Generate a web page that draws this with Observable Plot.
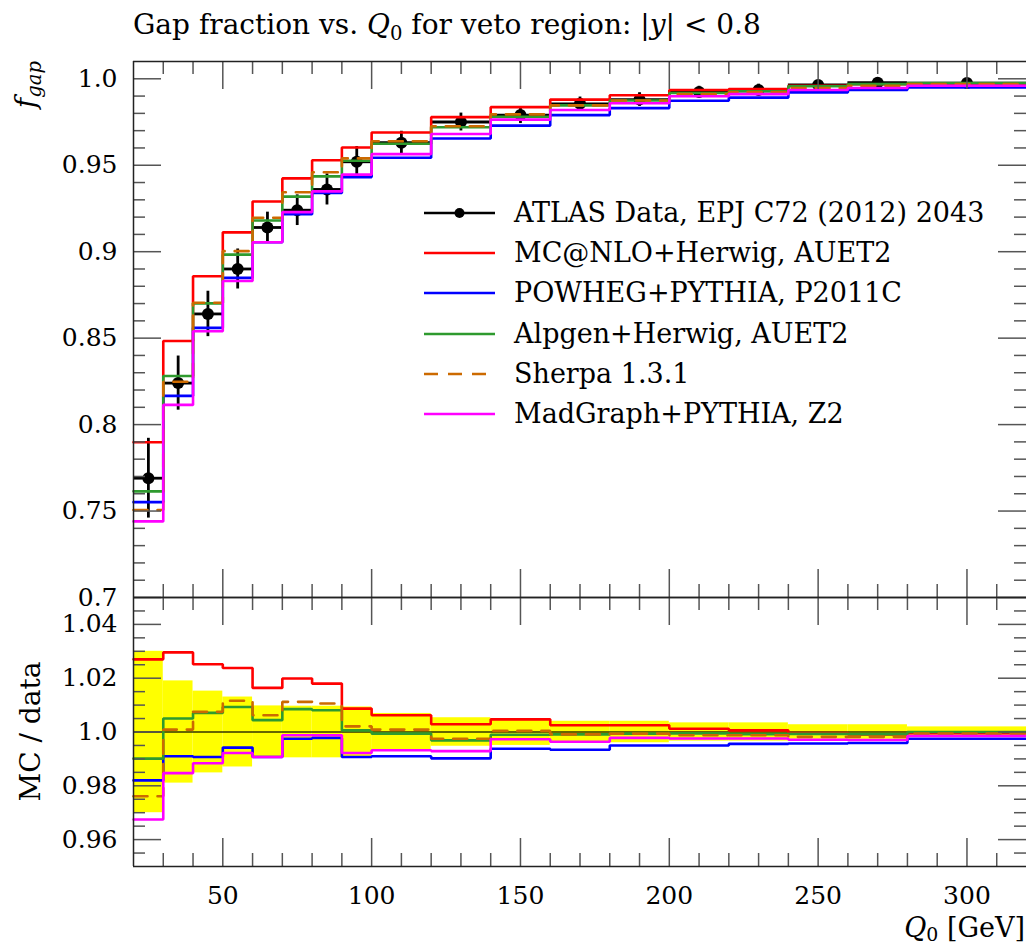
<!DOCTYPE html>
<html>
<head>
<meta charset="utf-8">
<script src="https://cdn.jsdelivr.net/npm/d3@7"></script>
<script src="https://cdn.jsdelivr.net/npm/@observablehq/plot@0.6"></script>
<style>
  body { margin: 0; background: #fff; }
  #chart { position: relative; width: 1026px; height: 947px; overflow: hidden;
           font-family: "DejaVu Serif", "Liberation Serif", serif; color: #000; }
  #chart svg { position: absolute; left: 0; overflow: visible; }
  .txt { position: absolute; white-space: nowrap; font-size: 25px; line-height: 28px; }
  .txt sub { font-size: 0.7em; vertical-align: -0.3em; line-height: 0; }
  .txt.low sub { vertical-align: -0.2em; }
</style>
</head>
<body>
<div id="chart"></div>
<script>
// Q0 bins of the gap-fraction measurement (GeV)
const binEdges = [20, 30, 40, 50, 60, 70, 80, 90, 100, 120, 140, 160, 180, 200, 220, 240, 260, 280, 320];

// Measured gap fraction per bin and its relative uncertainty
const gapData = [0.769, 0.824, 0.864, 0.890, 0.914, 0.924, 0.936, 0.952, 0.963, 0.975,
                 0.979, 0.9855, 0.988, 0.9923, 0.9935, 0.9964, 0.9977, 0.9975];
const dataRelErr = [0.030, 0.019, 0.0152, 0.013, 0.0097, 0.0096, 0.0096, 0.0093, 0.0069, 0.0053,
                    0.0050, 0.0040, 0.0040, 0.0034, 0.0034, 0.0027, 0.0027, 0.0019];

// MC / data ratios per generator
const ratioMcnlo = [1.027, 1.0296, 1.0252, 1.0238, 1.0164, 1.0199, 1.018, 1.0087, 1.0062, 1.0029,
                    1.0047, 1.0025, 1.0025, 1.0012, 1.0006, 0.9996, 0.9991, 0.9996];
const ratioPowheg = [0.982, 0.991, 0.9907, 0.9942, 0.9907, 0.9975, 0.9978, 0.9907, 0.991, 0.9902,
                     0.9938, 0.9934, 0.995, 0.995, 0.9956, 0.9957, 0.9959, 0.9975];
const ratioAlpgen = [0.9901, 1.005, 1.0071, 1.0093, 1.0044, 1.0085, 1.0081, 1.0006, 0.9994, 0.9969,
                     0.999, 0.9991, 0.9994, 0.9995, 0.9992, 0.9993, 0.9992, 1.0];
const ratioSherpa = [0.9761, 1.0009, 1.0075, 1.0116, 1.0062, 1.0112, 1.0106, 1.0021, 1.0009, 0.9975,
                     1.0004, 0.9991, 0.9994, 0.9988, 0.9988, 0.9982, 0.9982, 0.9994];
const ratioMadgraph = [0.9675, 0.9847, 0.9884, 0.9922, 0.9907, 0.9988, 0.9988, 0.9922, 0.9932, 0.9929,
                       0.9973, 0.9964, 0.9978, 0.9976, 0.9976, 0.9971, 0.997, 0.9985];

const dataLabel = "ATLAS Data, EPJ C72 (2012) 2043";
const seriesNames = ["MC@NLO+Herwig, AUET2", "POWHEG+PYTHIA, P2011C", "Alpgen+Herwig, AUET2",
                     "Sherpa 1.3.1", "MadGraph+PYTHIA, Z2"];
const seriesColors = ["#ff0000", "#0000ff", "#2e9a2e", "#cc6a00", "#ff00ff"];
const seriesDash = [null, null, null, "14,10", null];
const seriesRatios = [ratioMcnlo, ratioPowheg, ratioAlpgen, ratioSherpa, ratioMadgraph];

// Axis ticks and labels
const xTickValues = [50, 100, 150, 200, 250, 300];
const xMinorTicks = [30, 40, 60, 70, 80, 90, 110, 120, 130, 140, 160, 170, 180, 190, 210, 220, 230, 240, 260, 270, 280, 290, 310];
const topYTickValues = [0.7, 0.75, 0.8, 0.85, 0.9, 0.95, 1.0];
const topYTickLabels = ["0.7", "0.75", "0.8", "0.85", "0.9", "0.95", "1.0"];
const ratioYTickValues = [0.96, 0.98, 1.0, 1.02, 1.04];
const ratioYTickLabels = ["0.96", "0.98", "1.0", "1.02", "1.04"];

// ---- layout ----
const W = 1026, left = 133;
const topY0 = 61, splitY = 597, botY1 = 866;
const frameW = W - left;
const topH = splitY - topY0, botH = botY1 - splitY;
const FONT = '"DejaVu Serif", "Liberation Serif", serif';
const tickColor = "#555", frameColor = "#222";

// ---- derived tables ----
const bins = gapData.map((v, i) => ({
  lo: binEdges[i], hi: binEdges[i + 1], mid: (binEdges[i] + binEdges[i + 1]) / 2,
  v, rel: dataRelErr[i], err: v * dataRelErr[i]
}));
const steps = vals => vals.flatMap((v, i) => [{x: binEdges[i], y: v}, {x: binEdges[i + 1], y: v}]);
const series = seriesNames.map((name, k) => ({
  name, color: seriesColors[k], dash: seriesDash[k],
  ratio: steps(seriesRatios[k]),
  value: steps(seriesRatios[k].map((r, i) => r * gapData[i]))
}));

const topMinorY = d3.range(71, 101).map(d => d / 100).filter(d => Math.round(d * 100) % 5 !== 0);
const botMinorY = d3.range(191, 210).map(d => d / 200).filter(d => Math.round(d * 200) % 4 !== 0);

function frameTicks(yMajor, yMinor, fh) {
  const t = {stroke: tickColor, strokeWidth: 1.5};
  return [
    Plot.tickY(yMajor, {y: d => d, insetRight: frameW - 28, ...t}),
    Plot.tickY(yMinor, {y: d => d, insetRight: frameW - 12, ...t}),
    Plot.tickY(yMajor, {y: d => d, insetLeft: frameW - 28, ...t}),
    Plot.tickY(yMinor, {y: d => d, insetLeft: frameW - 12, ...t}),
    Plot.tickX(xTickValues, {x: d => d, insetBottom: fh - 28, ...t}),
    Plot.tickX(xMinorTicks, {x: d => d, insetBottom: fh - 13, ...t}),
    Plot.tickX(xTickValues, {x: d => d, insetTop: fh - 28, ...t}),
    Plot.tickX(xMinorTicks, {x: d => d, insetTop: fh - 13, ...t})
  ];
}

const baseStyle = {fontFamily: FONT, fontSize: "25px", background: "transparent", overflow: "visible", color: "#000"};

// ---- upper panel: gap fraction ----
const topPlot = Plot.plot({
  width: W, height: splitY, marginTop: topY0, marginBottom: 0, marginLeft: left, marginRight: 0,
  style: baseStyle,
  x: {domain: [20, 320], axis: null},
  y: {domain: [0.7, 1.01], axis: null},
  marks: [
    Plot.ruleY(bins, {x1: "lo", x2: "hi", y: "v", stroke: "#000", strokeWidth: 2.8}),
    Plot.ruleX(bins, {x: "mid", y1: d => d.v - d.err, y2: d => d.v + d.err, stroke: "#000", strokeWidth: 2.8}),
    Plot.dot(bins, {x: "mid", y: "v", r: 6, fill: "#000", stroke: null}),
    ...series.map(s => Plot.line(s.value, {x: "x", y: "y", stroke: s.color, strokeWidth: 2.6,
                                          strokeDasharray: s.dash, strokeLinejoin: "miter"})),
    ...frameTicks(topYTickValues, topMinorY, topH),
    Plot.ruleY([1.01, 0.7], {stroke: frameColor, strokeWidth: 1.5}),
    Plot.ruleX([20], {stroke: frameColor, strokeWidth: 1.5}),
    Plot.axisY(topYTickValues, {tickSize: 0, tickPadding: 16, label: null,
      tickFormat: d => topYTickLabels[topYTickValues.indexOf(d)]})
  ]
});
topPlot.style.top = "0px";

// ---- lower panel: MC / data ----
const botPlot = Plot.plot({
  width: W, height: 947 - splitY, marginTop: 0, marginBottom: 947 - botY1, marginLeft: left, marginRight: 0,
  style: baseStyle,
  x: {domain: [20, 320], axis: null},
  y: {domain: [0.95, 1.05], axis: null},
  marks: [
    Plot.rect(bins, {x1: "lo", x2: "hi", y1: d => 1 - d.rel, y2: d => 1 + d.rel, fill: "#ffff00"}),
    Plot.ruleY([1], {stroke: "#000", strokeOpacity: 0.6, strokeWidth: 2}),
    ...series.map(s => Plot.line(s.ratio, {x: "x", y: "y", stroke: s.color, strokeWidth: 2.6,
                                          strokeDasharray: s.dash, strokeLinejoin: "miter"})),
    ...frameTicks(ratioYTickValues, botMinorY, botH),
    Plot.ruleY([1.05, 0.95], {stroke: frameColor, strokeWidth: 1.5}),
    Plot.ruleX([20], {stroke: frameColor, strokeWidth: 1.5}),
    Plot.axisY(ratioYTickValues, {tickSize: 0, tickPadding: 16, label: null,
      tickFormat: d => ratioYTickLabels[ratioYTickValues.indexOf(d)]}),
    Plot.axisX(xTickValues, {anchor: "bottom", tickSize: 0, tickPadding: 20, label: null})
  ]
});
botPlot.style.top = splitY + "px";

const chart = document.getElementById("chart");
chart.append(topPlot, botPlot);

// ---- text placed around the panels ----
function baseOffset(fs, lh) { return (lh - 1.164 * fs) / 2 + 0.928 * fs; } // DejaVu metrics
function addText(html, x, baseline, {align = "left", width = 600, fs = 27, lh = 28, cls = ""} = {}) {
  const d = document.createElement("div");
  d.className = "txt " + cls;
  d.innerHTML = html;
  d.style.fontSize = fs + "px";
  d.style.lineHeight = lh + "px";
  d.style.top = (baseline - baseOffset(fs, lh)) + "px";
  if (align === "right") { d.style.left = (x - width) + "px"; d.style.width = width + "px"; d.style.textAlign = "right"; }
  else d.style.left = x + "px";
  chart.append(d);
  return d;
}
function addVText(html, baselineX, y0, y1, align, fs) {
  // rotated label, reading upward, laid out between y1 (top) and y0 (bottom)
  const lh = 28;
  const d = document.createElement("div");
  d.className = "txt";
  d.innerHTML = html;
  d.style.fontSize = fs + "px";
  d.style.width = (y0 - y1) + "px";
  d.style.textAlign = align;
  d.style.left = (baselineX - baseOffset(fs, lh)) + "px";
  d.style.top = y0 + "px";
  d.style.transformOrigin = "0 0";
  d.style.transform = "rotate(-90deg)";
  chart.append(d);
}

addText('Gap fraction vs. <i>Q</i><sub>0</sub> for veto region: |<i>y</i>| &lt; 0.8', left, 35, {fs: 28});
addVText('<i>f</i><sub><i>gap</i></sub>', 36, 300, topY0, "right", 28);
addVText('MC / data', 41, botY1, splitY, "center", 28);
addText('<i>Q</i><sub>0</sub> [GeV]', 1025, 937, {align: "right", width: 300, fs: 27, lh: 20, cls: "low"});

// legend
const legendRows = [213, 253, 293, 334, 374, 414];
const legendX0 = 424, legendX1 = 495, legendTextX = 514;
function swatch(y, stroke, dash, dot) {
  const s = `<svg width="${legendX1 - legendX0 + 10}" height="20" style="position:absolute;left:${legendX0 - 5}px;top:${y - 10}px;overflow:visible">
    <line x1="5" x2="${legendX1 - legendX0 + 5}" y1="10" y2="10" stroke="${stroke}" stroke-width="2.6" ${dash ? `stroke-dasharray="${dash}"` : ""}/>
    ${dot ? `<circle cx="${(legendX1 - legendX0) / 2 + 5}" cy="10" r="5" fill="${stroke}"/>` : ""}</svg>`;
  chart.insertAdjacentHTML("beforeend", s);
}
swatch(legendRows[0], "#000", null, true);
addText(dataLabel, legendTextX, legendRows[0] + 9);
series.forEach((s, k) => {
  swatch(legendRows[k + 1], s.color, s.dash, false);
  addText(s.name, legendTextX, legendRows[k + 1] + 9);
});
</script>
</body>
</html>
